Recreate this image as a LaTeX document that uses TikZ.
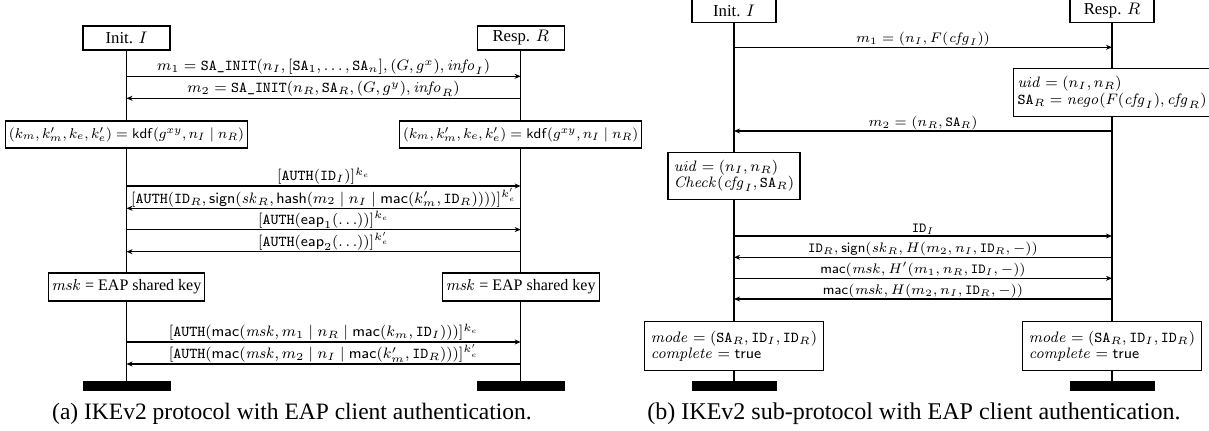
\documentclass[tikz,border=0pt]{standalone}
\usepackage{fix-cm}
\usepackage[no-math]{fontspec}
\setmainfont{Liberation Serif}
\usetikzlibrary{arrows.meta}
\def\px{0.5618pt}
\newcommand{\pSA}{\mathtt{SA}}
\newcommand{\pID}{\mathtt{ID}}
\newcommand{\pAUTH}{\mathtt{AUTH}}
\newcommand{\pINIT}{\texttt{SA\_INIT}}
\newcommand{\pkdf}{\mathsf{kdf}}
\newcommand{\psign}{\mathsf{sign}}
\newcommand{\phash}{\mathsf{hash}}
\newcommand{\pmac}{\mathsf{mac}}
\newcommand{\peap}{\mathsf{eap}}
\newcommand{\ptrue}{\mathsf{true}}
\def\aIx{126.5}
\def\aRx{520.7}
\def\bIx{734}
\def\bRx{1112}
\begin{document}
\begin{tikzpicture}[x=\px, y=-\px,
  box/.style={draw, line width=0.6pt, fill=white, inner sep=2pt, align=left},
  fa/.style={font=\fontsize{8.5}{9.3}\selectfont},
  fk/.style={font=\fontsize{8.0}{9}\selectfont},
  fb/.style={font=\fontsize{8.5}{9.2}\selectfont},
  fbl/.style={font=\fontsize{7.8}{8.6}\selectfont},
  hdr/.style={box, font=\fontsize{9.4}{11}\selectfont, minimum width=87*\px, minimum height=24*\px},
  bar/.style={fill=black, draw=none, minimum width=88*\px, minimum height=10*\px, inner sep=0pt},
  life/.style={line width=0.6pt},
  msg/.style={line width=0.6pt, -{Stealth[length=3.4pt,width=2.8pt]}},
  lbl/.style={above, inner sep=0.5pt},
  captext/.style={font=\fontsize{13.2}{15}\selectfont}]
\clip (0,0) rectangle (1209,431);
% ---------------- panel (a) ----------------
\node[hdr] (aI) at (\aIx,38) {Init. $I$};
\node[hdr] (aR) at (\aRx,38) {Resp. $R$};
\node[box, fk, minimum width=238*\px, minimum height=27*\px] (akI) at (\aIx,134.5)
  {$(k_m, k'_m, k_e, k'_e) = \pkdf(g^{xy}, n_I \mid n_R)$};
\node[box, fk, minimum width=238*\px, minimum height=27*\px] (akR) at (\aRx,134.5)
  {$(k_m, k'_m, k_e, k'_e) = \pkdf(g^{xy}, n_I \mid n_R)$};
\node[box, font=\fontsize{9}{10}\selectfont, minimum width=156*\px, minimum height=28*\px] (amI) at (\aIx,287)
  {$\mathit{msk}$ = EAP shared key};
\node[box, font=\fontsize{9}{10}\selectfont, minimum width=153*\px, minimum height=28*\px] (amR) at (\aRx,287)
  {$\mathit{msk}$ = EAP shared key};
\node[bar] (abI) at (\aIx,386.4) {};
\node[bar] (abR) at (\aRx,386.4) {};
\draw[life] (aI) -- (akI) -- (amI) -- (abI);
\draw[life] (aR) -- (akR) -- (amR) -- (abR);
\coordinate (a1l) at (\aIx,76.3);  \coordinate (a1r) at (\aRx,76.3);
\coordinate (a2l) at (\aIx,98.3);  \coordinate (a2r) at (\aRx,98.3);
\coordinate (a3l) at (\aIx,186);   \coordinate (a3r) at (\aRx,186);
\coordinate (a4l) at (\aIx,208.3); \coordinate (a4r) at (\aRx,208.3);
\coordinate (a5l) at (\aIx,229.6); \coordinate (a5r) at (\aRx,229.6);
\coordinate (a6l) at (\aIx,251.7); \coordinate (a6r) at (\aRx,251.7);
\coordinate (a7l) at (\aIx,342);   \coordinate (a7r) at (\aRx,342);
\coordinate (a8l) at (\aIx,364); \coordinate (a8r) at (\aRx,364);
\draw[msg] (a1l) -- node[lbl, fa] {$m_1 = \pINIT(n_I, [\pSA_1, \ldots, \pSA_n], (G, g^x), \mathit{info}_I)$} (a1r);
\draw[msg] (a2r) -- node[lbl, fa] {$m_2 = \pINIT(n_R, \pSA_R, (G, g^y), \mathit{info}_R)$} (a2l);
\draw[msg] (a3l) -- node[lbl, fa] {$[\pAUTH(\pID_I)]^{k_e}$} (a3r);
\draw[msg] (a4r) -- node[lbl, fa] {$[\pAUTH(\pID_R, \psign(\mathit{sk}_R, \phash(m_2 \mid n_I \mid \pmac(k'_m, \pID_R))))]^{k'_e}$} (a4l);
\draw[msg] (a5l) -- node[lbl, fa] {$[\pAUTH(\peap_1(\ldots))]^{k_e}$} (a5r);
\draw[msg] (a6r) -- node[lbl, fa] {$[\pAUTH(\peap_2(\ldots))]^{k'_e}$} (a6l);
\draw[msg] (a7l) -- node[lbl, fa] {$[\pAUTH(\pmac(\mathit{msk}, m_1 \mid n_R \mid \pmac(k_m, \pID_I)))]^{k_e}$} (a7r);
\draw[msg] (a8r) -- node[lbl, fa] {$[\pAUTH(\pmac(\mathit{msk}, m_2 \mid n_I \mid \pmac(k'_m, \pID_R)))]^{k'_e}$} (a8l);
\node[captext] (capa) at (292,414) {(a) IKEv2 protocol with EAP client authentication.};
% ---------------- panel (b) ----------------
\node[hdr, minimum width=84*\px] (bI) at (\bIx,10.5) {Init. $I$};
\node[hdr, minimum width=84*\px] (bR) at (\bRx,10.5) {Resp. $R$};
\node[box, fb, minimum width=192.6*\px, minimum height=47.7*\px] (buR) at (\bRx,92.2)
  {$\mathit{uid} = (n_I, n_R)$\\ $\pSA_R = \mathit{nego}(F(\mathit{cfg}_I), \mathit{cfg}_R)$};
\node[box, fb, minimum width=132*\px, minimum height=47*\px] (buI) at (\bIx,175.8)
  {$\mathit{uid} = (n_I, n_R)$\\ $\mathit{Check}(\mathit{cfg}_I, \pSA_R)$};
\node[box, fb, minimum width=179*\px, minimum height=49*\px] (bfI) at (\bIx,346)
  {$\mathit{mode} = (\pSA_R, \pID_I, \pID_R)$\\ $\mathit{complete} = \ptrue$};
\node[box, fb, minimum width=179*\px, minimum height=49*\px] (bfR) at (\bRx,346)
  {$\mathit{mode} = (\pSA_R, \pID_I, \pID_R)$\\ $\mathit{complete} = \ptrue$};
\node[bar, minimum width=85*\px] (bbI) at (\bIx,386.4) {};
\node[bar, minimum width=85*\px] (bbR) at (\bRx,386.4) {};
\draw[life] (bI) -- (buI) -- (bfI) -- (bbI);
\draw[life] (bR) -- (buR) -- (bfR) -- (bbR);
\coordinate (b1l) at (\bIx,47.3);  \coordinate (b1r) at (\bRx,47.3);
\coordinate (b2l) at (\bIx,131);   \coordinate (b2r) at (\bRx,131);
\coordinate (b3l) at (\bIx,236);   \coordinate (b3r) at (\bRx,236);
\coordinate (b4l) at (\bIx,257.3); \coordinate (b4r) at (\bRx,257.3);
\coordinate (b5l) at (\bIx,278.3); \coordinate (b5r) at (\bRx,278.3);
\coordinate (b6l) at (\bIx,299);   \coordinate (b6r) at (\bRx,299);
\draw[msg] (b1l) -- node[lbl, fbl] {$m_1 = (n_I, F(\mathit{cfg}_I))$} (b1r);
\draw[msg] (b2r) -- node[lbl, fbl] {$m_2 = (n_R, \pSA_R)$} (b2l);
\draw[msg] (b3l) -- node[lbl, fbl] {$\pID_I$} (b3r);
\draw[msg] (b4r) -- node[lbl, fbl] {$\pID_R, \psign(\mathit{sk}_R, H(m_2, n_I, \pID_R, -))$} (b4l);
\draw[msg] (b5l) -- node[lbl, fbl] {$\pmac(\mathit{msk}, H'(m_1, n_R, \pID_I, -))$} (b5r);
\draw[msg] (b6r) -- node[lbl, fbl] {$\pmac(\mathit{msk}, H(m_2, n_I, \pID_R, -))$} (b6l);
\node[captext, font=\fontsize{13.5}{15}\selectfont] (capb) at (914,414) {(b) IKEv2 sub-protocol with EAP client authentication.};
\end{tikzpicture}
\end{document}
